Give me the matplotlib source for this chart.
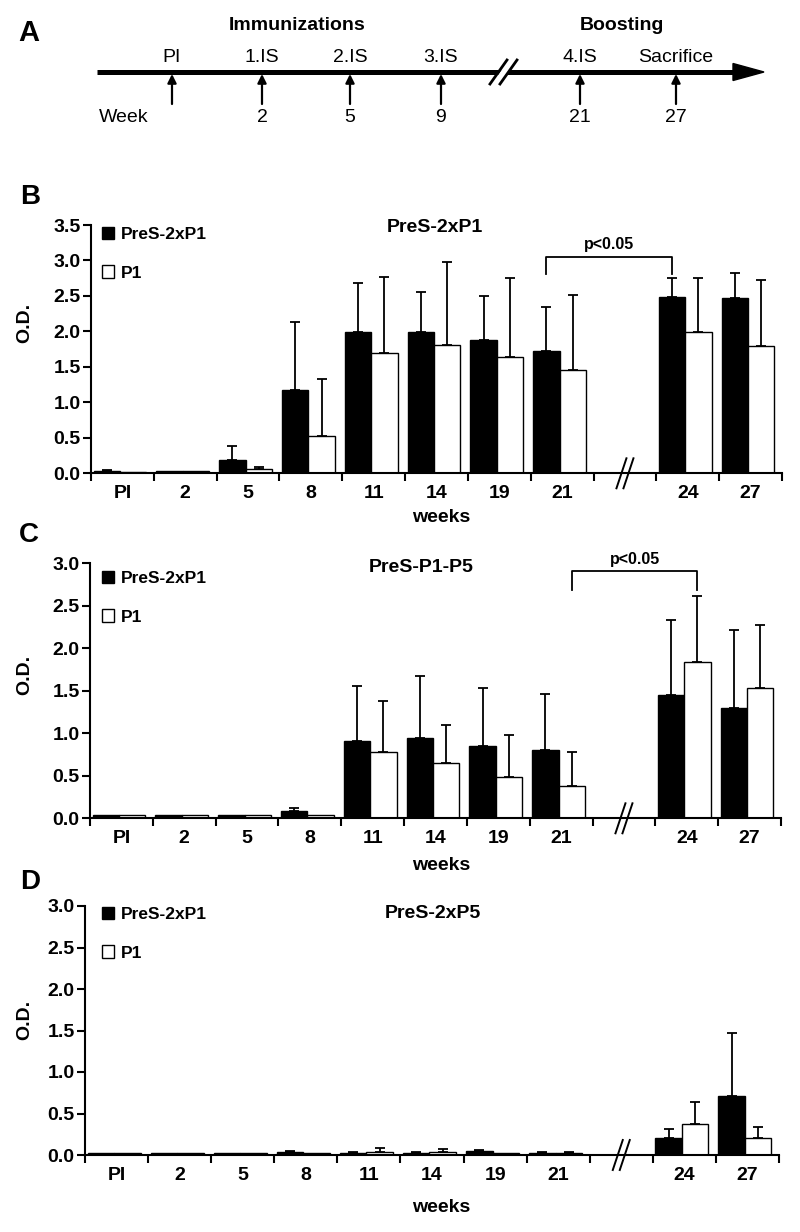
import matplotlib
matplotlib.use('Agg')
import matplotlib.pyplot as plt
import numpy as np
from matplotlib.patches import Polygon, Patch

plt.rcParams['font.family'] = ['Liberation Sans', 'DejaVu Sans']
plt.rcParams['font.weight'] = 'bold'

W, H = 800, 1232

# ---------------- data ----------------
weeks = ['PI', '2', '5', '8', '11', '14', '19', '21', '24', '27']
series_names = ['PreS-2xP1', 'P1']

# Panel B : PreS-2xP1
B_black = [0.03, 0.03, 0.19, 1.17, 1.99, 1.99, 1.88, 1.72, 2.49, 2.47]
B_black_err = [0.01, 0.0, 0.195, 0.96, 0.69, 0.56, 0.62, 0.62, 0.265, 0.35]
B_white = [0.02, 0.03, 0.06, 0.53, 1.69, 1.81, 1.64, 1.45, 1.99, 1.79]
B_white_err = [0.0, 0.0, 0.03, 0.80, 1.08, 1.17, 1.115, 1.07, 0.765, 0.93]

# Panel C : PreS-P1-P5
C_black = [0.04, 0.04, 0.04, 0.086, 0.91, 0.95, 0.85, 0.80, 1.45, 1.30]
C_black_err = [0.0, 0.0, 0.0, 0.032, 0.65, 0.73, 0.68, 0.66, 0.88, 0.91]
C_white = [0.04, 0.04, 0.04, 0.04, 0.78, 0.65, 0.49, 0.38, 1.84, 1.53]
C_white_err = [0.0, 0.0, 0.0, 0.0, 0.60, 0.45, 0.49, 0.40, 0.78, 0.74]

# Panel D : PreS-2xP5
D_black = [0.02, 0.02, 0.02, 0.035, 0.03, 0.03, 0.05, 0.03, 0.20, 0.71]
D_black_err = [0.0, 0.0, 0.0, 0.01, 0.01, 0.01, 0.015, 0.01, 0.11, 0.76]
D_white = [0.02, 0.02, 0.02, 0.02, 0.04, 0.04, 0.02, 0.03, 0.37, 0.20]
D_white_err = [0.0, 0.0, 0.0, 0.0, 0.05, 0.035, 0.0, 0.01, 0.27, 0.14]

# timeline (panel A)
timeline_labels = ['PI', '1.IS', '2.IS', '3.IS', '4.IS', 'Sacrifice']
timeline_weeks = ['', '2', '5', '9', '21', '27']

# ---------------- figure ----------------
fig = plt.figure(figsize=(W / 100, H / 100), dpi=100)


def fpt(x, y):
    return x / W, 1 - y / H


# ---- Panel A ----
axA = fig.add_axes([0, 1 - 150 / H, 1, 150 / H])
axA.set_xlim(0, W)
axA.set_ylim(150, 0)
axA.axis('off')
axA.plot([97, 736], [72, 72], color='black', lw=3.6, solid_capstyle='butt')
axA.add_patch(Polygon([[733, 63.5], [764, 72], [733, 80.5]], closed=True,
                      color='black'))
# break mark
axA.add_patch(Polygon([[493, 84], [509, 60], [516, 60], [500, 84]], closed=True,
                      color='white', zorder=3))
for dx in (0, 10):
    axA.plot([490 + dx, 507 + dx], [84, 60], color='black', lw=2.0, zorder=4)
arrow_x = [172, 262, 350, 441, 580, 676]
for xx, lab, wk in zip(arrow_x, timeline_labels, timeline_weeks):
    axA.annotate('', xy=(xx, 74), xytext=(xx, 104),
                 arrowprops=dict(arrowstyle='-|>', lw=1.6, color='black',
                                 mutation_scale=13, shrinkA=0, shrinkB=0))
    axA.text(xx, 57, lab, ha='center', va='center', fontsize=14,
             fontweight='normal')
    if wk:
        axA.text(xx, 118, wk, ha='center', va='center', fontsize=14,
                 fontweight='normal')
axA.text(99, 118, 'Week', ha='left', va='center', fontsize=14,
         fontweight='normal')
axA.text(297, 25, 'Immunizations', ha='center', va='center', fontsize=14,
         fontweight='bold')
axA.text(622, 25, 'Boosting', ha='center', va='center', fontsize=14,
         fontweight='bold')
axA.text(29, 33, 'A', ha='center', va='center', fontsize=21, fontweight='bold')

# ---- bar panels ----
nslots = 11
slot_of = [i if i < 8 else i + 1 for i in range(len(weeks))]


def bar_panel(rect_px, ymax, black, black_err, white, white_err, title,
              title_xy, letter, letter_xy, legend_y, odlabel_y, weeks_y):
    left, top, right, bottom = rect_px
    ax = fig.add_axes([left / W, 1 - bottom / H, (right - left) / W,
                       (bottom - top) / H])
    slots = np.array(slot_of, dtype=float)
    bw = 0.42
    xb = slots + 0.25
    xw = slots + 0.67
    ax.bar(xb, black, width=bw, color='black', edgecolor='black',
           lw=1.0, zorder=2, label=series_names[0])
    ax.bar(xw, white, width=bw, color='white', edgecolor='black',
           lw=1.0, zorder=2, label=series_names[1])
    for xs, vals, errs in ((xb, black, black_err), (xw, white, white_err)):
        vals = np.asarray(vals)
        errs = np.asarray(errs)
        m = errs > 0
        ax.errorbar(xs[m], vals[m], yerr=[np.zeros(m.sum()), errs[m]],
                    fmt='none', ecolor='black', elinewidth=1.3, capsize=3.8,
                    capthick=1.3, zorder=3)
    ax.set_xlim(0, nslots)
    ax.set_ylim(0, ymax)
    yt = np.arange(0, ymax + 0.01, 0.5)
    ax.set_yticks(yt)
    ax.set_yticklabels(['%.1f' % v for v in yt])
    ax.set_xticks(np.arange(0, nslots + 1))
    ax.set_xticklabels([])
    ax.set_xticks(slots + 0.5, minor=True)
    ax.set_xticklabels(weeks, minor=True)
    for s in ('top', 'right'):
        ax.spines[s].set_visible(False)
    for s in ('left', 'bottom'):
        ax.spines[s].set_linewidth(1.5)
    ax.tick_params(axis='x', which='major', length=6, width=1.5,
                   direction='out')
    ax.tick_params(axis='x', which='minor', length=0, pad=8.5, labelsize=14)
    ax.tick_params(axis='y', length=6, width=1.5, direction='out', pad=1.5,
                   labelsize=14)
    for lab in ax.get_xticklabels(minor=True) + ax.get_yticklabels():
        lab.set_fontweight('bold')

    # axis break mark
    ax_w_px = right - left
    ax_h_px = bottom - top
    sx = nslots / ax_w_px
    sy = ymax / ax_h_px
    cx = 8.5
    for off in (-3.5, 3.5):
        ax.plot([cx + (off - 5) * sx, cx + (off + 5) * sx],
                [-15 * sy, 15 * sy], color='black', lw=1.4, clip_on=False,
                zorder=5)

    ax.legend(handles=[Patch(facecolor='black', edgecolor='black', lw=1.0),
                       Patch(facecolor='white', edgecolor='black', lw=1.0)],
              labels=series_names, loc='upper left',
              bbox_to_anchor=fpt(102, legend_y), bbox_transform=fig.transFigure,
              frameon=False, handlelength=0.7, handleheight=0.7,
              handletextpad=0.4, labelspacing=1.34, borderpad=0,
              borderaxespad=0, prop={'weight': 'bold', 'size': 12.5})

    fig.text(*fpt(*title_xy), title, ha='center', va='center', fontsize=14,
             fontweight='bold')
    fig.text(*fpt(*letter_xy), letter, ha='center', va='center',
             fontsize=20, fontweight='bold')
    fig.text(*fpt(25, odlabel_y), 'O.D.', ha='center', va='center',
             rotation=90, fontsize=14, fontweight='bold')
    fig.text(*fpt(441, weeks_y), 'weeks', ha='center', va='center',
             fontsize=14, fontweight='bold')
    return ax


axB = bar_panel((91, 225.0, 782, 473.3), 3.5, B_black, B_black_err, B_white,
                B_white_err, 'PreS-2xP1', (435, 227), 'B', (30, 197), 227,
                323, 518)
axC = bar_panel((90, 563.3, 781, 818.3), 3.0, C_black, C_black_err, C_white,
                C_white_err, 'PreS-P1-P5', (421, 567), 'C', (29, 535), 571,
                675, 866)
axD = bar_panel((85, 906.0, 779, 1155.0), 3.0, D_black, D_black_err, D_white,
                D_white_err, 'PreS-2xP5', (433, 913), 'D', (30, 882), 907,
                1020, 1208)


def bracket(ax, x1, x2, y_leg, y_top, y_text):
    ax.plot([x1, x1, x2, x2], [y_leg, y_top, y_top, y_leg], color='black',
            lw=1.3, clip_on=False, zorder=4)
    ax.text((x1 + x2) / 2, y_text, 'p<0.05', ha='center', va='center',
            fontsize=11.5, fontweight='bold', clip_on=False)


bracket(axB, 7 + 0.25, 9 + 0.25, 2.81, 3.055, 3.22)
bracket(axC, 7 + 0.67, 9 + 0.67, 2.69, 2.91, 3.05)

fig.savefig('out.png', dpi=100)
